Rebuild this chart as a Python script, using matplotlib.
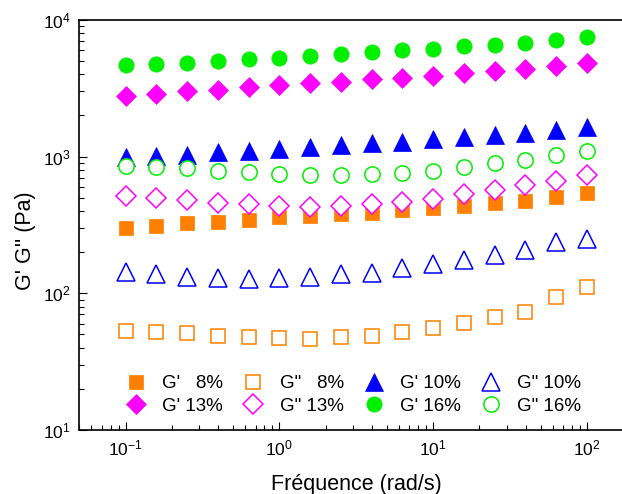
import matplotlib
matplotlib.use('Agg')
import matplotlib.pyplot as plt

plt.rcParams['font.family'] = ['Liberation Sans', 'DejaVu Sans']
plt.rcParams['mathtext.fontset'] = 'custom'
plt.rcParams['mathtext.rm'] = 'Liberation Sans'

# frequency (rad/s)
freq = [0.1, 0.158, 0.251, 0.398, 0.631, 1.0, 1.58, 2.51, 3.98, 6.31,
        10.0, 15.8, 25.1, 39.8, 63.1, 100.0]

# moduli (Pa)
gp_8 = [302, 311, 325, 334, 344, 360, 368, 378, 389, 407, 423, 437, 455, 474, 504, 545]
gpp_8 = [53.0, 51.9, 51.0, 48.9, 47.7, 47.3, 46.3, 47.7, 48.9, 51.9, 56.0, 60.4, 66.7, 72.6, 93.5, 112]
gp_10 = [993, 1010, 1032, 1075, 1104, 1133, 1171, 1211, 1250, 1285, 1339, 1384, 1439, 1496, 1566, 1638]
gpp_10 = [143, 139, 131, 130, 128, 130, 132, 138, 141, 152, 163, 175, 192, 209, 239, 250]
gp_13 = [2790, 2870, 3000, 3070, 3210, 3320, 3440, 3530, 3680, 3780, 3910, 4070, 4230, 4400, 4600, 4820]
gpp_13 = [515, 500, 479, 460, 450, 437, 430, 437, 450, 468, 490, 530, 567, 616, 663, 733]
gp_16 = [4680, 4750, 4860, 5030, 5150, 5290, 5440, 5630, 5790, 5990, 6150, 6410, 6590, 6810, 7100, 7470]
gpp_16 = [853, 844, 821, 785, 771, 750, 733, 733, 750, 763, 785, 835, 893, 949, 1028, 1104]

labels = ["G'   8%", 'G"   8%', "G' 10%", 'G" 10%',
          "G' 13%", 'G" 13%', "G' 16%", 'G" 16%']

fig = plt.figure(figsize=(6.22, 4.94), dpi=100)
ax = fig.add_axes([0.1275, 0.1296, 0.8725, 0.8300])

orange = '#FF8000'
magenta = '#FF00FF'
blue = '#0000FF'
green = '#00F000'

h = []
h += ax.plot(freq, gp_8, 's', ms=10.5, color=orange, mec=orange, mew=0.5, label=labels[0])
h += ax.plot(freq, gpp_8, 's', ms=10, mfc='white', mec=orange, mew=1.1, label=labels[1])
h += ax.plot(freq, gp_10, '^', ms=13, color=blue, mec=blue, mew=0.5, label=labels[2])
h += ax.plot(freq, gpp_10, '^', ms=13, mfc='white', mec=blue, mew=1.1, label=labels[3])
h += ax.plot(freq, gp_13, 'D', ms=10.5, color=magenta, mec=magenta, mew=0.5, label=labels[4])
h += ax.plot(freq, gpp_13, 'D', ms=10, mfc='white', mec=magenta, mew=1.1, label=labels[5])
h += ax.plot(freq, gp_16, 'o', ms=11, color=green, mec=green, mew=0.5, label=labels[6])
h += ax.plot(freq, gpp_16, 'o', ms=11, mfc='white', mec=green, mew=1.1, label=labels[7])

ax.set_xscale('log')
ax.set_yscale('log')
ax.set_xlim(0.05, 169)
ax.set_ylim(10, 10000)

ax.spines['right'].set_visible(False)
for s in ['left', 'bottom', 'top']:
    ax.spines[s].set_linewidth(1.2)
ax.tick_params(which='both', direction='in', top=False, right=False,
               labelsize=12.5, pad=6, width=0.8)
ax.tick_params(which='major', length=5.5)
ax.tick_params(which='minor', length=3.5)

fig.text(356.7 / 622, 1 - 490 / 494, 'Fréquence (rad/s)', fontsize=15.5,
         ha='center', va='baseline')
fig.text(25 / 622, 1 - 241 / 494, "G' G'' (Pa)", fontsize=15.5,
         rotation=90, ha='center', va='center')

# legend fills column by column, so reorder to get rows as in the original
order = [0, 4, 1, 5, 2, 6, 3, 7]
ax.legend([h[i] for i in order], [labels[i] for i in order],
          ncol=4, loc='center', bbox_to_anchor=(354 / 622, 1 - 395 / 494),
          bbox_transform=fig.transFigure, frameon=False, fontsize=13.5,
          numpoints=1, handlelength=1.0, handletextpad=0.9,
          columnspacing=1.1, labelspacing=0.28)

plt.savefig('out.png', dpi=100)
